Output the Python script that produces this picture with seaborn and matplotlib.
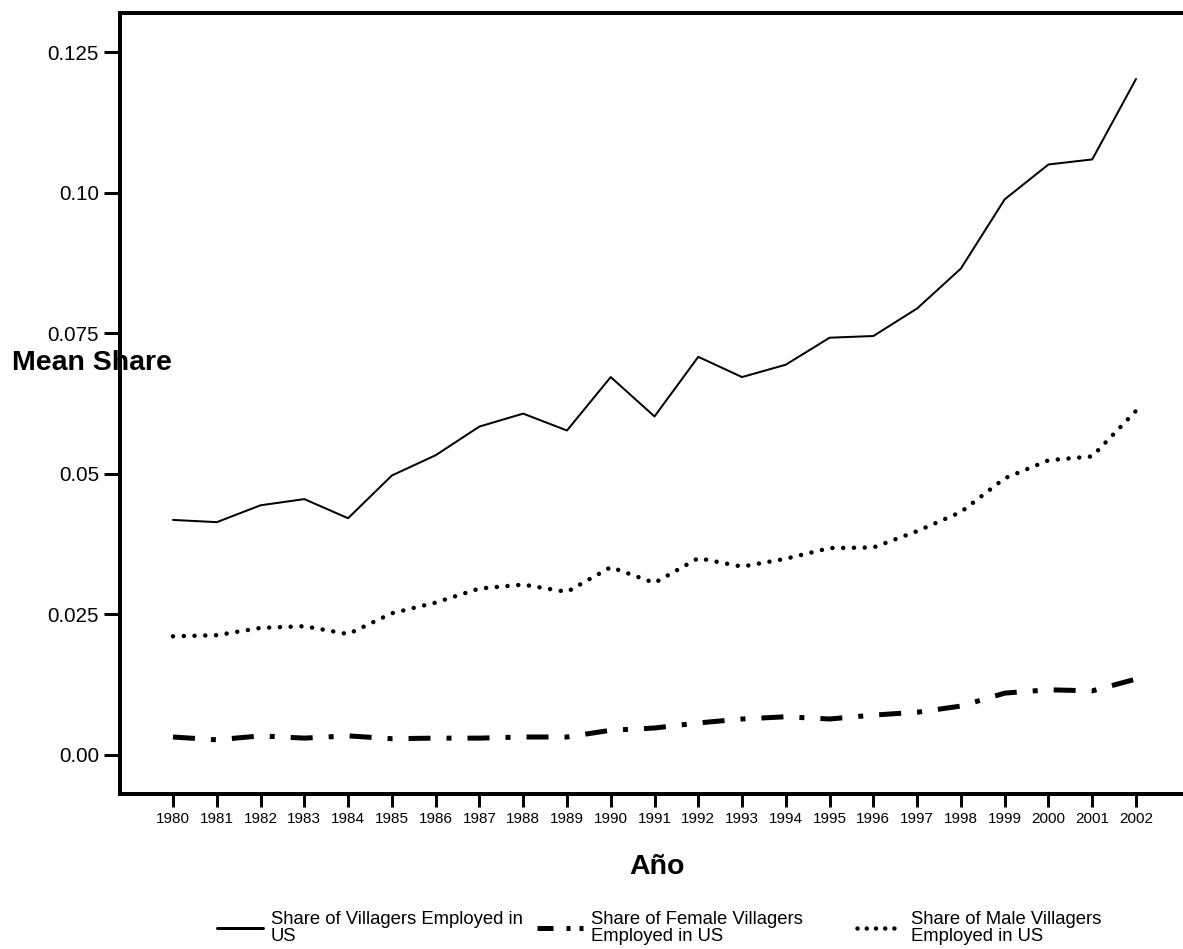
import matplotlib
matplotlib.use("Agg")
import matplotlib.pyplot as plt
from matplotlib.lines import Line2D
import seaborn as sns
import pandas as pd

# ---------------- data ----------------
years = list(range(1980, 2003))
share_total = [0.0418, 0.0414, 0.0444, 0.0455, 0.0421, 0.0497, 0.0533, 0.0584,
               0.0607, 0.0577, 0.0672, 0.0602, 0.0708, 0.0672, 0.0694, 0.0742,
               0.0745, 0.0794, 0.0865, 0.0988, 0.1050, 0.1059, 0.1202]
share_female = [0.0032, 0.0027, 0.0034, 0.0030, 0.0034, 0.0029, 0.0030, 0.0030,
                0.0032, 0.0032, 0.0044, 0.0048, 0.0057, 0.0064, 0.0068, 0.0064,
                0.0071, 0.0076, 0.0087, 0.0110, 0.0116, 0.0114, 0.0135]
share_male = [0.0211, 0.0213, 0.0226, 0.0229, 0.0215, 0.0252, 0.0271, 0.0296,
              0.0303, 0.0290, 0.0334, 0.0306, 0.0350, 0.0335, 0.0349, 0.0368,
              0.0369, 0.0398, 0.0432, 0.0492, 0.0524, 0.0531, 0.0612]
series_labels = ["Share of Villagers Employed in\nUS",
                 "Share of Female Villagers\nEmployed in US",
                 "Share of Male Villagers\nEmployed in US"]
ytick_values = [0.0, 0.025, 0.05, 0.075, 0.10, 0.125]
ytick_labels = ["0.00", "0.025", "0.05", "0.075", "0.10", "0.125"]
xlabel = "Año"
ylabel = "Mean Share"

# ---------------- style ----------------
sns.set_style("ticks")
plt.rcParams['font.family'] = ['Liberation Sans', 'DejaVu Sans']
plt.rcParams['text.color'] = 'black'
plt.rcParams['axes.labelcolor'] = 'black'
plt.rcParams['xtick.color'] = 'black'
plt.rcParams['ytick.color'] = 'black'

W, H = 1183, 949
fig = plt.figure(figsize=(W / 100, H / 100), dpi=100)
ax_l, ax_r, ax_t, ax_b = 120, 1183, 13, 794
ax = fig.add_axes([ax_l / W, 1 - ax_b / H, (ax_r - ax_l) / W, (ax_b - ax_t) / H])

df = pd.DataFrame({"year": years, "total": share_total,
                   "female": share_female, "male": share_male})

px = 0.72  # points per pixel

sns.lineplot(data=df, x="year", y="total", ax=ax, color="black",
             linewidth=2.0 * px, linestyle="-")
sns.lineplot(data=df, x="year", y="female", ax=ax, color="black",
             linewidth=5.0 * px, linestyle=(0, (4.4, 3.2, 1.0, 3.2)))
sns.lineplot(data=df, x="year", y="male", ax=ax, color="black",
             linewidth=4.5 * px, linestyle=(0, (0.01, 2.38)))
lines = ax.get_lines()
lines[1].set_dash_capstyle("butt")
lines[2].set_dash_capstyle("round")

# axes limits (pixel-calibrated)
xs = (1136 - 173) / 22.0
ax.set_xlim(1980 - (173 - ax_l) / xs, 1980 + (ax_r - 173) / xs)
ys = (755 - 52) / 0.125
ax.set_ylim(-(ax_b - 755) / ys, 0.125 + (52 - ax_t) / ys)

ax.set_xticks(years)
ax.set_xticklabels([str(y) for y in years])
ax.set_yticks(ytick_values)
ax.set_yticklabels(ytick_labels)

for side in ["left", "bottom", "top"]:
    ax.spines[side].set_visible(True)
    ax.spines[side].set_linewidth(4.0 * px)
    ax.spines[side].set_color("black")
ax.spines["right"].set_visible(False)

ax.tick_params(axis="y", direction="out", length=16 * px, width=3 * px,
               pad=5 * px, labelsize=14.8, colors="black", right=False)
ax.tick_params(axis="x", direction="out", length=13 * px, width=3 * px,
               pad=5 * px, labelsize=11, colors="black", top=False)

ax.set_ylabel(ylabel, fontsize=20.5, fontweight="bold", rotation=0,
              ha="left", va="center", color="black")
ax.yaxis.set_label_coords((12 - ax_l) / (ax_r - ax_l), (ax_b - 363) / (ax_b - ax_t))
ax.set_xlabel(xlabel, fontsize=20.5, fontweight="bold", va="center", color="black")
ax.xaxis.set_label_coords((657 - ax_l) / (ax_r - ax_l), -(867 - ax_b) / (ax_b - ax_t))

# ---------------- legend (three columns) ----------------
h_total = Line2D([], [], color="black", linewidth=3.0 * px, linestyle="-")
h_female = Line2D([], [], color="black", linewidth=5.0 * px,
                  linestyle=(0, (3.2, 2.6, 0.8, 1.8, 0.8, 3.0)))
h_male = Line2D([], [], color="black", linewidth=4.5 * px,
                linestyle=(0, (0.01, 2.04)))
h_male.set_dash_capstyle("round")
handles = [h_total, h_female, h_male]
starts = [217, 537, 857]
fs = 13.3
for h, lab, x0 in zip(handles, series_labels, starts):
    leg = fig.legend(handles=[h], labels=[lab], loc="center left",
                     bbox_to_anchor=(x0 / W, 1 - 928 / H), frameon=False,
                     fontsize=fs, handlelength=46 / (fs / px),
                     handletextpad=8 / (fs / px), borderpad=0,
                     borderaxespad=0, labelcolor="black")
    for t in leg.get_texts():
        t.set_linespacing(1.0)
        t.set_color("black")

fig.savefig("out.png", dpi=100, facecolor="white")
